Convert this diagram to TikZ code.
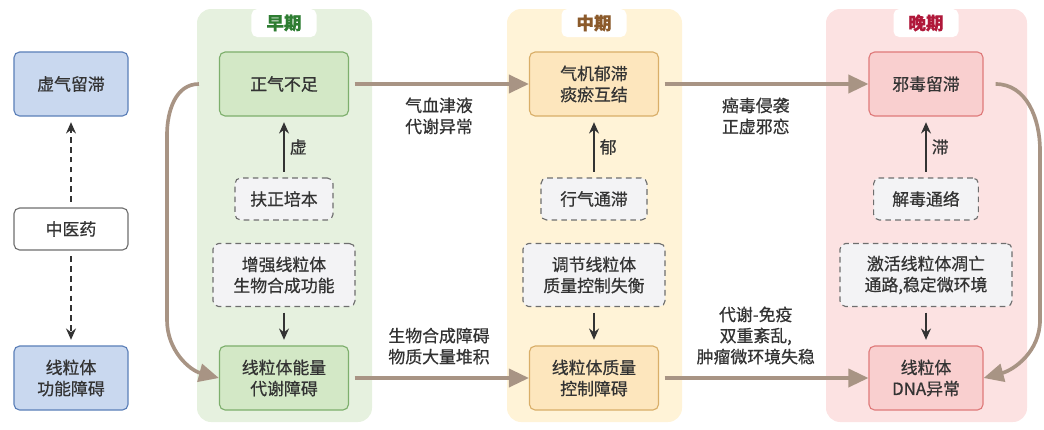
\documentclass[tikz,border=0pt]{standalone}
\usepackage{fontspec}
\setmainfont{Noto Sans CJK SC}[FakeBold=0.7]
\usetikzlibrary{arrows.meta, positioning}
\definecolor{ink}{HTML}{333333}
\definecolor{bluefill}{HTML}{C9D8EF}
\definecolor{blueline}{HTML}{5B7FB8}
\definecolor{greenbg}{HTML}{E6F1DF}
\definecolor{greenfill}{HTML}{D3E8C6}
\definecolor{greenline}{HTML}{7DAF6C}
\definecolor{greentxt}{HTML}{2E7D32}
\definecolor{yellowbg}{HTML}{FFF3D7}
\definecolor{yellowfill}{HTML}{FDE6BD}
\definecolor{yellowline}{HTML}{D9AE68}
\definecolor{browntxt}{HTML}{8B5A2B}
\definecolor{pinkbg}{HTML}{FCE2E2}
\definecolor{pinkfill}{HTML}{F9CFCF}
\definecolor{pinkline}{HTML}{DF7A7A}
\definecolor{redtxt}{HTML}{B0183A}
\definecolor{dashfill}{HTML}{F3F3F5}
\definecolor{dashline}{HTML}{6E6E6E}
\definecolor{flowc}{HTML}{A89484}

\begin{document}
\begin{tikzpicture}[x=0.025cm, y=-0.025cm, font=\fontsize{12}{15}\selectfont, text=ink,
box/.style={draw, rounded corners=4pt, line width=0.8pt, align=center, minimum width=3.225cm, minimum height=1.6cm},
bluebox/.style={box, fill=bluefill, draw=blueline, minimum width=2.85cm},
greenbox/.style={box, fill=greenfill, draw=greenline},
yellowbox/.style={box, fill=yellowfill, draw=yellowline},
pinkbox/.style={box, fill=pinkfill, draw=pinkline, minimum width=2.85cm},
dbox/.style={draw=dashline, fill=dashfill, dash pattern=on 4pt off 3pt, rounded corners=4pt, line width=0.8pt, align=center, minimum height=1.05cm},
tab/.style={fill=white, rounded corners=4pt, minimum width=1.625cm, minimum height=0.7cm, font=\fontsize{12.5}{15}\selectfont\bfseries},
lbl/.style={align=center, text=ink},
flow/.style={-{Triangle[length=0.5cm,width=0.45cm]}, draw=flowc, line width=2.6pt},
dark/.style={-{Stealth[length=8pt,width=7pt]}, draw=ink, line width=1.6pt, shorten <=4pt, shorten >=4pt}]
\useasboundingbox (0,0) rectangle (1044,429);

\fill[greenbg, rounded corners=10pt] (197,9) rectangle (372,422);
\fill[yellowbg, rounded corners=10pt] (507,9) rectangle (682,422);
\fill[pinkbg, rounded corners=10pt] (826,9) rectangle (1027,422);
\node[tab, text=greentxt] (t1) at (284,23) {早期};
\node[tab, text=browntxt] (t2) at (594,23) {中期};
\node[tab, text=redtxt] (t3) at (926,23) {晚期};

\node[bluebox] (xq) at (71,84) {虚气留滞};
\node[box, draw=dashline, fill=white, minimum width=2.85cm, minimum height=1.05cm] (zyy) at (71,229) {中医药};
\node[bluebox] (xgn) at (71,378) {线粒体\\功能障碍};

\node[greenbox] (zq) at (284,84) {正气不足};
\node[dbox, minimum width=2.45cm] (fz) at (284,199) {扶正培本};
\node[dbox, minimum width=3.55cm, minimum height=1.575cm] (zqs) at (284,275) {增强线粒体\\生物合成功能};
\node[greenbox] (nl) at (284,378) {线粒体能量\\代谢障碍};

\node[yellowbox] (qj) at (594,84) {气机郁滞\\痰瘀互结};
\node[dbox, minimum width=2.65cm] (xqt) at (594,199) {行气通滞};
\node[dbox, minimum width=3.55cm, minimum height=1.575cm] (tj) at (594,275) {调节线粒体\\质量控制失衡};
\node[yellowbox] (zl) at (594,378) {线粒体质量\\控制障碍};

\node[pinkbox] (xd) at (926,84) {邪毒留滞};
\node[dbox, minimum width=2.62cm] (jd) at (926,199) {解毒通络};
\node[dbox, minimum width=4.3cm, minimum height=1.575cm] (jh) at (926,275) {激活线粒体凋亡\\通路,稳定微环境};
\node[pinkbox] (dna) at (926,378) {线粒体\\DNA异常};

\path
(zyy) edge[dark, dash pattern=on 4pt off 3pt] (xq)
edge[dark, dash pattern=on 4pt off 3pt] (xgn);
\path
(fz) edge[dark] node[right] {虚} (zq)
(zqs) edge[dark] (nl)
(xqt) edge[dark] node[right] {郁} (qj)
(tj) edge[dark] (zl)
(jd) edge[dark] node[right] {滞} (xd)
(jh) edge[dark] (dna);

\path
(zq) edge[flow, shorten <=4pt] node[lbl, below=5pt] {气血津液\\代谢异常} (qj)
(qj) edge[flow, shorten <=4pt] node[lbl, below=5pt, xshift=-0.2cm] {癌毒侵袭\\正虚邪恋} (xd)
(nl) edge[flow, shorten <=4pt] node[lbl, above=5pt] {生物合成障碍\\物质大量堆积} (zl)
(zl) edge[flow, shorten <=4pt] node[lbl, above=5pt, xshift=-0.2cm] {代谢-免疫\\双重紊乱,\\肿瘤微环境失稳} (dna);
\draw[flow] ([xshift=-0.5cm]zq.west) to[out=180,in=90] (167,135) -- (167,320) to[out=-90,in=165] (nl.west);
\draw[flow] ([xshift=0.3cm]xd.east) to[out=0,in=90] (1040,150) -- (1040,320) to[out=-90,in=15] (dna.east);
\end{tikzpicture}
\end{document}
